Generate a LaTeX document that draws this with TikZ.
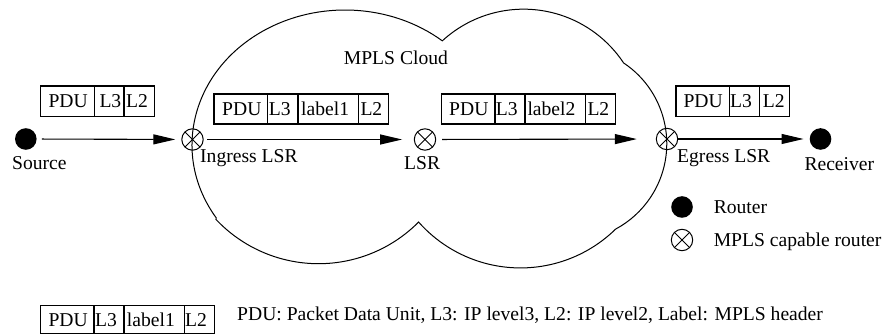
\documentclass[tikz,border=0pt]{standalone}
\usepackage{fontspec}
\setmainfont{Liberation Serif}
\usetikzlibrary{arrows.meta}
\begin{document}
\begin{tikzpicture}[x=1pt,y=1pt,
  every node/.style={inner sep=0pt, font=\fontsize{19.6}{22}\selectfont},
  lbl/.style={anchor=base west},
  dotnode/.style={circle, fill=black, minimum size=21.6pt, inner sep=0pt},
  otimesnode/.style={circle, draw, line width=1pt, minimum size=21.4pt, inner sep=0pt,
     path picture={\draw[line width=1pt] (path picture bounding box.north west) -- (path picture bounding box.south east)
       (path picture bounding box.north east) -- (path picture bounding box.south west);}},
  arr/.style={line width=1.1pt, -{Triangle[length=22pt,width=10pt]}},
  cellline/.style={line width=1.1pt},
  cloudline/.style={line width=1pt}]
\useasboundingbox (0,0) rectangle (888,334);

% cloud
\draw[cloudline] (216.25,116.07)
  arc[start angle=212.7, end angle=50.5, x radius=153, y radius=135]
  arc[start angle=132.6, end angle=33.5, radius=120]
  arc[start angle=56.3, end angle=-61.8, radius=97]
  arc[start angle=-45.6, end angle=-138.5, radius=136]
  arc[start angle=-44.8, end angle=-136.7, radius=141] -- cycle;
\node[lbl] (cloudlbl) at (343.7,269) {MPLS Cloud};

% routers
\node[dotnode] (src) at (25.8,195) {};
\node[otimesnode] (ing) at (192.5,194.5) {};
\node[otimesnode] (lsr) at (425,194.5) {};
\node[otimesnode] (egr) at (667,195) {};
\node[dotnode] (rcv) at (820.5,195) {};

\node[lbl] (srclbl) at (12,164) {Source};
\node[lbl] (inglbl) at (200,171) {Ingress LSR};
\node[lbl] (lsrlbl) at (404,164) {LSR};
\node[lbl] (egrlbl) at (677,171) {Egress LSR};
\node[lbl] (rcvlbl) at (804.3,163) {Receiver};

% connectors
\draw[arr, shorten <=5pt, shorten >=6pt] (src) -- (ing);
\draw[arr, shorten <=3.7pt, shorten >=11.7pt] (ing) -- (lsr);
\draw[arr, shorten <=6pt, shorten >=19pt] (lsr) -- (egr);
\draw[arr, shorten >=6pt] (egr) -- (rcv);

% packet box 1
\draw[cellline] (40.7,217.3) rectangle (154.3,248);
\draw[cellline] (94.3,217.3) -- (94.3,248) (124,217.3) -- (124,248);
\node[lbl] (b1a) at (48.3,226) {PDU};
\node[lbl] (b1b) at (99.3,226) {L3};
\node[lbl] (b1c) at (126,226) {L2};

% packet box 2
\draw[cellline] (214,210) rectangle (388.7,240);
\draw[cellline] (267.3,210) -- (267.3,240) (298,210) -- (298,240) (358.7,210) -- (358.7,240);
\node[lbl] (b2a) at (222,218) {PDU};
\node[lbl] (b2b) at (268.7,218) {L3};
\node[lbl] (b2c) at (301,218) {label1};
\node[lbl] (b2d) at (360.3,218) {L2};

% packet box 3
\draw[cellline] (441.7,210) rectangle (615.7,240);
\draw[cellline] (495,210) -- (495,240) (525,210) -- (525,240) (585.7,210) -- (585.7,240);
\node[lbl] (b3a) at (449,218) {PDU};
\node[lbl] (b3b) at (495.7,218) {L3};
\node[lbl] (b3c) at (527.3,218) {label2};
\node[lbl] (b3d) at (587.3,218) {L2};

% packet box 4
\draw[cellline] (676,217.3) rectangle (789.3,248);
\draw[cellline] (729.3,217.3) -- (729.3,248) (759.3,217.3) -- (759.3,248);
\node[lbl] (b4a) at (683.3,226) {PDU};
\node[lbl] (b4b) at (730,226) {L3};
\node[lbl] (b4c) at (762.7,226) {L2};

% legend
\node[dotnode] (legdot) at (682,127) {};
\node[lbl] (legdotlbl) at (713.6,120) {Router};
\node[otimesnode] (legox) at (682,94) {};
\node[lbl] (legoxlbl) at (713.6,87) {MPLS capable router};

% bottom legend box
\draw[cellline] (40.7,0.8) rectangle (214.3,28.7);
\draw[cellline] (94,0.8) -- (94,28.7) (124,0.8) -- (124,28.7) (184.3,0.8) -- (184.3,28.7);
\node[lbl] (b5a) at (48.3,7) {PDU};
\node[lbl] (b5b) at (95,7) {L3};
\node[lbl] (b5c) at (126.7,7) {label1};
\node[lbl] (b5d) at (185,7) {L2};
\node[lbl] (caption) at (237,13) {PDU: Packet Data Unit, L3: IP level3, L2: IP level2, Label: MPLS header};
\end{tikzpicture}
\end{document}
